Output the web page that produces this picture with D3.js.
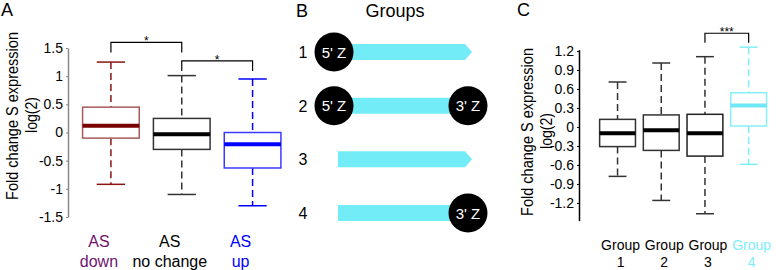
<!DOCTYPE html>
<head>
<meta charset="utf-8">
<title>Fold change S expression</title>
<style>
  body { margin: 0; background: #fff; }
  svg text { font-family: "Liberation Sans", Arial, Helvetica, sans-serif; }
</style>
</head>
<body>
<script src="https://cdn.jsdelivr.net/npm/d3@7"></script>
<script>

// Panel A data
const catsA = ['AS down', 'AS no change', 'AS up'];
const labelsA = [['AS', 'down'], ['AS', 'no change'], ['AS', 'up']];
const hiA = [1.25, 1.01, 0.95];
const q3A = [0.45, 0.25, 0.0];
const medA = [0.12, -0.03, -0.21];
const q1A = [-0.1, -0.3, -0.63];
const loA = [-0.92, -1.1, -1.3];
const ticksA = [-1.5, -1, -0.5, 0, 0.5, 1, 1.5];

// Panel B data
const rowsB = ['1', '2', '3', '4'];
const fiveZ = [true, true, false, false];
const threeZ = [false, true, false, true];

// Panel C data
const catsC = ['Group 1', 'Group 2', 'Group 3', 'Group 4'];
const labelsC = [['Group', '1'], ['Group', '2'], ['Group', '3'], ['Group', '4']];
const hiC = [0.71, 1.01, 1.11, 1.26];
const q3C = [0.12, 0.19, 0.2, 0.54];
const medC = [-0.1, -0.05, -0.1, 0.34];
const q1C = [-0.31, -0.37, -0.46, 0.015];
const loC = [-0.78, -1.16, -1.37, -0.59];
const ticksC = [-1.2, -0.9, -0.6, -0.3, 0, 0.3, 0.6, 0.9, 1.2];

const styleA = [
    {edge: '#a85a5a', med: '#7a0000', whisk: '#8a1414', text: '#6e146e'},
    {edge: '#333', med: '#000', whisk: '#333', text: '#000'},
    {edge: '#3a3aff', med: '#0000ff', whisk: '#0000ff', text: '#0000ff'}
];
const styleC = [
    {edge: '#333', med: '#000', whisk: '#333', text: '#000'},
    {edge: '#333', med: '#000', whisk: '#333', text: '#000'},
    {edge: '#222', med: '#000', whisk: '#333', text: '#000'},
    {edge: '#86f0fc', med: '#6fe8f6', whisk: '#80eefa', text: '#80eefa'}
];

const svg = d3.select('body').append('svg')
    .attr('width', 776)
    .attr('height', 270);

function fmt(d) {
    if (d === 0) return '0';
    const s = Math.abs(d) % 1 === 0 ? String(Math.abs(d)) : Math.abs(d).toFixed(1);
    return (d < 0 ? '-' : '') + s;
}

function drawBoxes(g, x, y, cats, hi, q3, med, q1, lo, styles) {
    const bw = x.bandwidth();
    const box = g.selectAll('.box')
        .data(cats)
        .enter().append('g')
        .attr('class', 'box')
        .attr('transform', d => 'translate(' + x(d) + ',0)');

    // whiskers
    box.append('line')
        .attr('x1', bw / 2).attr('x2', bw / 2)
        .attr('y1', (d, i) => y(hi[i])).attr('y2', (d, i) => y(q3[i]))
        .attr('stroke', (d, i) => styles[i].whisk)
        .attr('stroke-width', 1.5)
        .attr('stroke-dasharray', '7,4');
    box.append('line')
        .attr('x1', bw / 2).attr('x2', bw / 2)
        .attr('y1', (d, i) => y(q1[i])).attr('y2', (d, i) => y(lo[i]))
        .attr('stroke', (d, i) => styles[i].whisk)
        .attr('stroke-width', 1.5)
        .attr('stroke-dasharray', '7,4');

    // caps
    [hi, lo].forEach(arr => {
        box.append('line')
            .attr('x1', bw / 4).attr('x2', bw * 3 / 4)
            .attr('y1', (d, i) => y(arr[i])).attr('y2', (d, i) => y(arr[i]))
            .attr('stroke', (d, i) => styles[i].whisk)
            .attr('stroke-width', 1.5);
    });

    box.append('rect')
        .attr('x', 0)
        .attr('width', bw)
        .attr('y', (d, i) => y(q3[i]))
        .attr('height', (d, i) => y(q1[i]) - y(q3[i]))
        .attr('fill', 'white')
        .attr('stroke', (d, i) => styles[i].edge)
        .attr('stroke-width', 1.5);

    box.append('line')
        .attr('x1', 0).attr('x2', bw)
        .attr('y1', (d, i) => y(med[i])).attr('y2', (d, i) => y(med[i]))
        .attr('stroke', (d, i) => styles[i].med)
        .attr('stroke-width', 4);
}

function bracket(g, x, y, a, b, top, leg, stars) {
    const xa = x(a) + x.bandwidth() / 2;
    const xb = x(b) + x.bandwidth() / 2;
    g.append('path')
        .attr('d', 'M' + xa + ',' + y(leg) + 'V' + y(top) + 'H' + xb + 'V' + y(leg))
        .attr('fill', 'none')
        .attr('stroke', '#000')
        .attr('stroke-width', 1.2);
    g.append('text')
        .attr('x', (xa + xb) / 2)
        .attr('y', y(top) + 3)
        .attr('text-anchor', 'middle')
        .style('font-size', '12px')
        .text(stars);
}

// rotated axis title, squeezed a bit like the original's narrow font
function yLabel(g, bx, cy) {
    g.append('text')
        .attr('transform', 'translate(' + bx + ',' + cy + ') rotate(-90)')
        .attr('text-anchor', 'middle')
        .attr('textLength', 168)
        .attr('lengthAdjust', 'spacingAndGlyphs')
        .style('font-size', '17px')
        .text('Fold change S expression');
    g.append('text')
        .attr('transform', 'translate(' + (bx + 19) + ',' + (cy - 1) + ') rotate(-90)')
        .attr('text-anchor', 'middle')
        .attr('textLength', 36)
        .attr('lengthAdjust', 'spacingAndGlyphs')
        .style('font-size', '17px')
        .text('log(2)');
}

// ---------- Panel A ----------
const xA = d3.scaleBand().domain(catsA).range([75.5, 288]).paddingInner(0.2).paddingOuter(0.1);
const yA = d3.scaleLinear().domain([-1.5, 1.5]).range([217, 48]);
const gA = svg.append('g');

const axA = gA.append('g')
    .attr('transform', 'translate(68,0)')
    .call(d3.axisLeft(yA).tickValues(ticksA).tickFormat(fmt).tickSize(2).tickSizeOuter(0));
axA.select('.domain').attr('stroke', '#888').attr('stroke-width', 1.5);
axA.selectAll('.tick line').attr('stroke', '#888');
axA.selectAll('.tick text').style('font-size', '14px').attr('fill', '#000')
    .style('font-family', '"Liberation Sans", Arial, sans-serif');

drawBoxes(gA, xA, yA, catsA, hiA, q3A, medA, q1A, loA, styleA);
bracket(gA, xA, yA, catsA[0], catsA[1], 1.6, 1.42, '*');
bracket(gA, xA, yA, catsA[1], catsA[2], 1.27, 1.09, '*');

gA.selectAll('.xlab')
    .data(catsA)
    .enter().append('text')
    .attr('class', 'xlab')
    .attr('transform', d => 'translate(' + (xA(d) + xA.bandwidth() / 2 - 12) + ',247)')
    .attr('text-anchor', 'middle')
    .attr('fill', (d, i) => styleA[i].text)
    .style('font-size', '16px')
    .each(function(d, i) {
        d3.select(this).append('tspan').attr('x', 0).attr('dy', 0).text(labelsA[i][0]);
        d3.select(this).append('tspan').attr('x', 0).attr('dy', 20).text(labelsA[i][1]);
    });

yLabel(gA, 18, 116);
gA.append('text').attr('x', 1).attr('y', 16).style('font-size', '18px').text('A');

// ---------- Panel B ----------
const gB = svg.append('g');
const yB = d3.scalePoint().domain(rowsB).range([52, 213]);
const xB = d3.scaleLinear().domain([0, 1]).range([334, 468]);

gB.append('text').attr('x', 296).attr('y', 17).style('font-size', '18px').text('B');
gB.append('text').attr('x', 395).attr('y', 17).attr('text-anchor', 'middle')
    .style('font-size', '18px').text('Groups');

const row = gB.selectAll('.row')
    .data(rowsB)
    .enter().append('g')
    .attr('class', 'row')
    .attr('transform', d => 'translate(0,' + yB(d) + ')');

row.append('text')
    .attr('x', 303)
    .attr('y', 6)
    .attr('text-anchor', 'middle')
    .style('font-size', '16px')
    .text(d => d);

row.append('path')
    .attr('d', (d, i) => {
        const x0 = xB(0) + 4, x1 = xB(1), h = 8;
        if (threeZ[i]) return 'M' + x0 + ',' + (-h) + 'H' + x1 + 'V' + h + 'H' + x0 + 'Z';
        return 'M' + x0 + ',' + (-h) + 'H' + (x1 - 3) + 'L' + (x1 + 4) + ',0L' + (x1 - 3) + ',' + h + 'H' + x0 + 'Z';
    })
    .attr('fill', '#72ecf6');

row.filter((d, i) => fiveZ[i]).append('circle')
    .attr('cx', xB(0)).attr('r', 19.5).attr('fill', '#000');
row.filter((d, i) => fiveZ[i]).append('text')
    .attr('x', xB(0)).attr('y', 5.5).attr('text-anchor', 'middle')
    .attr('fill', '#fff').style('font-size', '15px').text("5' Z");
row.filter((d, i) => threeZ[i]).append('circle')
    .attr('cx', xB(1)).attr('r', 19.5).attr('fill', '#000');
row.filter((d, i) => threeZ[i]).append('text')
    .attr('x', xB(1)).attr('y', 5.5).attr('text-anchor', 'middle')
    .attr('fill', '#fff').style('font-size', '15px').text("3' Z");

// ---------- Panel C ----------
const xC = d3.scaleBand().domain(catsC).range([595.7, 770.5]).paddingInner(0.18).paddingOuter(0.09);
const yC = d3.scaleLinear().domain([-1.48, 1.22]).range([220.7, 49.7]);
const gC = svg.append('g');

const axC = gC.append('g')
    .attr('transform', 'translate(579,0)')
    .call(d3.axisLeft(yC).tickValues(ticksC).tickFormat(fmt).tickSize(2).tickSizeOuter(0));
axC.select('.domain').attr('stroke', '#000').attr('stroke-width', 1.5);
axC.selectAll('.tick text').style('font-size', '14px').attr('fill', '#000')
    .style('font-family', '"Liberation Sans", Arial, sans-serif');

drawBoxes(gC, xC, yC, catsC, hiC, q3C, medC, q1C, loC, styleC);
bracket(gC, xC, yC, catsC[2], catsC[3], 1.48, 1.33, '***');

gC.selectAll('.xlab')
    .data(catsC)
    .enter().append('text')
    .attr('class', 'xlab')
    .attr('transform', d => 'translate(' + (xC(d) + xC.bandwidth() / 2 + 3) + ',250)')
    .attr('text-anchor', 'middle')
    .attr('fill', (d, i) => styleC[i].text)
    .style('font-size', '14px')
    .each(function(d, i) {
        d3.select(this).append('tspan').attr('x', 0).attr('dy', 0).text(labelsC[i][0]);
        d3.select(this).append('tspan').attr('x', 0).attr('dy', 17).text(labelsC[i][1]);
    });

yLabel(gC, 533, 132);
gC.append('text').attr('x', 517).attr('y', 16).style('font-size', '18px').text('C');

</script>
</body>
